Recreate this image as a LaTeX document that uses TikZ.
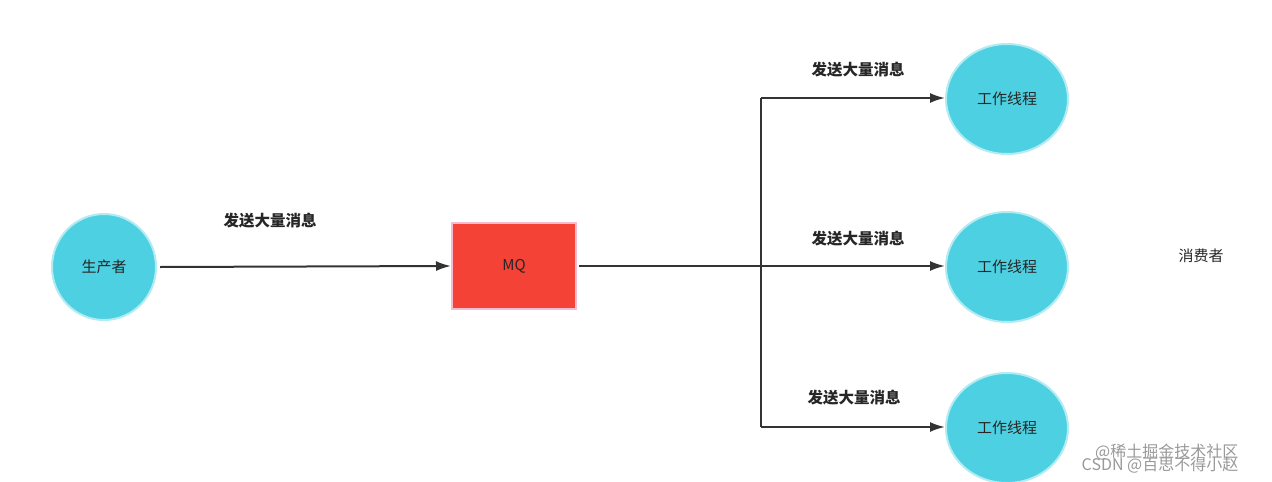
\documentclass[tikz,border=0pt]{standalone}
\usepackage{fontspec}
\setmainfont{Noto Sans CJK SC}
\usetikzlibrary{arrows.meta,shapes.geometric}
\definecolor{cy}{HTML}{4DD0E1}
\definecolor{cyb}{HTML}{B2EBF2}
\definecolor{mqred}{HTML}{F44336}
\definecolor{mqb}{HTML}{F8BBD0}
\begin{document}
\begin{tikzpicture}[x=1pt,y=-1pt,
  circ/.style={ellipse,fill=cy,draw=cyb,line width=2pt,inner sep=0pt},
  lab/.style={font=\fontsize{15.5}{17}\selectfont\bfseries,text=black!85},
  txt/.style={font=\fontsize{15}{17}\selectfont,text=black!85},
  arr/.style={draw=black!80,line width=2pt,-{Latex[length=15pt,width=10pt]}}]
\useasboundingbox (0,0) rectangle (1272,482);
\fill[white] (0,0) rectangle (1272,482);
\node[circ,minimum width=104pt,minimum height=106pt,txt] (p) at (104,267) {生产者};
\node[fill=mqred,draw=mqb,line width=2pt,minimum width=124pt,minimum height=86pt,txt] (mq) at (514,266) {MQ};
\node[circ,minimum width=122pt,minimum height=110pt,txt] (w1) at (1007,99) {工作线程};
\node[circ,minimum width=122pt,minimum height=110pt,txt] (w2) at (1007,267) {工作线程};
\node[circ,minimum width=122pt,minimum height=110pt,txt] (w3) at (1007,428) {工作线程};
\coordinate (b) at (761,266);
\coordinate (bt) at (761,98);
\coordinate (bb) at (761,427);
\draw[arr] ([xshift=3pt]p.east) -- (mq.west);
\draw[draw=black!80,line width=2.5pt] ([xshift=2pt]mq.east) -- (b);
\draw[draw=black!80,line width=2pt] (bt) -- (bb);
\draw[arr] (bt) -- (w1.west |- bt);
\draw[arr] (b) -- (w2.west |- b);
\draw[arr] (bb) -- (w3.west |- bb);
\node[lab] (l0) at (270,221) {发送大量消息};
\node[lab] (l1) at (858,70) {发送大量消息};
\node[lab] (l2) at (858,239) {发送大量消息};
\node[lab] (l3) at (854,398) {发送大量消息};
\node[txt] (c) at (1201,256) {消费者};
\node[font=\fontsize{16}{17}\selectfont,text=black!40,align=right] (wm) at (1160,459) {@稀土掘金技术社区\\[-4pt]CSDN @百思不得小赵};
\end{tikzpicture}
\end{document}
